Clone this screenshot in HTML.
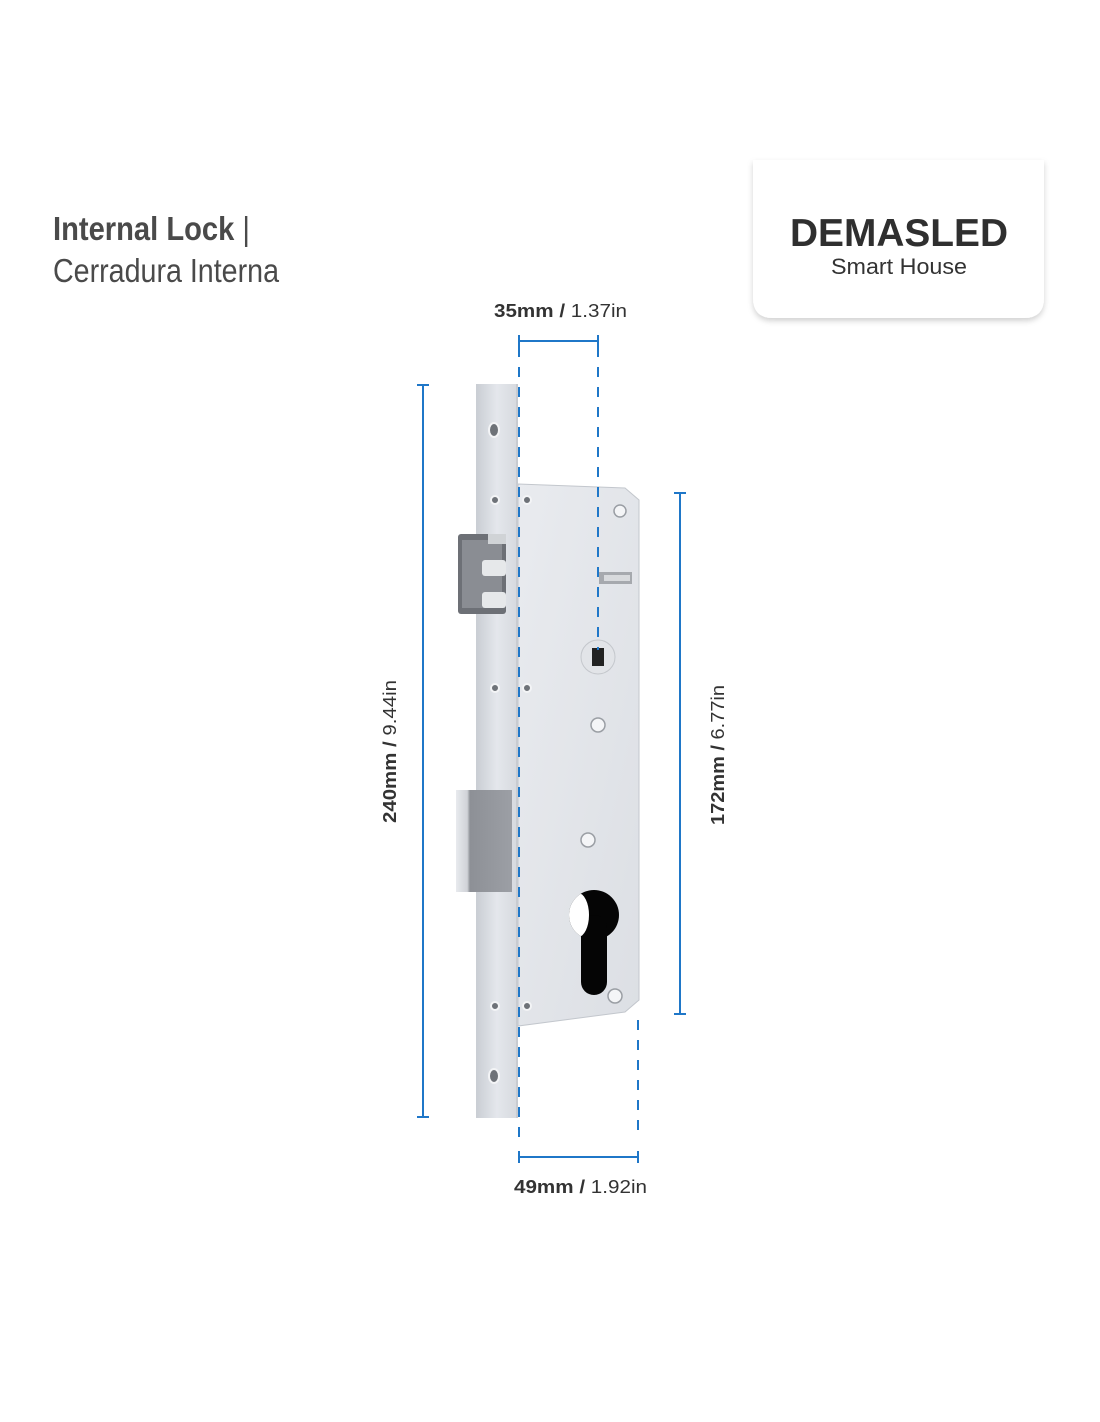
<!DOCTYPE html>
<html><head><meta charset="utf-8"><style>
html,body{margin:0;padding:0;background:#fff;}
svg{display:block}
text{font-family:"Liberation Sans",sans-serif}
</style></head><body>
<svg width="1100" height="1422" viewBox="0 0 1100 1422" xmlns="http://www.w3.org/2000/svg">
<defs>
<linearGradient id="fp" x1="0" x2="1"><stop offset="0" stop-color="#c9cdd3"/><stop offset="0.5" stop-color="#e4e7ec"/><stop offset="1" stop-color="#d6d9de"/></linearGradient>
<linearGradient id="cs" x1="0" x2="1" y1="0" y2="1"><stop offset="0" stop-color="#e9ebef"/><stop offset="1" stop-color="#dcdfe4"/></linearGradient>
<linearGradient id="db" x1="0" x2="1"><stop offset="0" stop-color="#e8eaee"/><stop offset="0.2" stop-color="#d0d3d8"/><stop offset="0.25" stop-color="#8d9096"/><stop offset="1" stop-color="#9c9fa5"/></linearGradient>
<filter id="sh" x="-10%" y="-10%" width="120%" height="130%"><feDropShadow dx="0" dy="3" stdDeviation="3" flood-color="#000" flood-opacity="0.18"/></filter>
<clipPath id="kc"><circle cx="594" cy="915" r="25"/></clipPath>
</defs>

<path d="M753 160 V298 Q753 318 773 318 H1024 Q1044 318 1044 298 V160 Z" fill="#fff" filter="url(#sh)"/>
<text x="790" y="246" font-size="39" font-weight="bold" fill="#2f2f2f" textLength="218" lengthAdjust="spacingAndGlyphs">DEMASLED</text>
<text x="831" y="274" font-size="22" fill="#333" textLength="136" lengthAdjust="spacingAndGlyphs">Smart House</text>

<text x="53" y="240" font-size="33" font-weight="bold" fill="#4a4a4a" textLength="197" lengthAdjust="spacingAndGlyphs">Internal Lock <tspan font-weight="normal">|</tspan></text>
<text x="53" y="282" font-size="33" fill="#4a4a4a" textLength="226" lengthAdjust="spacingAndGlyphs">Cerradura Interna</text>

<path d="M518 484 L625 488 L639 500 L639 1000 L625 1012 L518 1026 Z" fill="url(#cs)" stroke="#c3c7cd" stroke-width="1"/>
<rect x="476" y="384" width="42" height="734" fill="url(#fp)"/>
<line x1="517" y1="384" x2="517" y2="1118" stroke="#b8bcc2"/>
<rect x="458" y="534" width="48" height="80" rx="3" fill="#6d7076"/>
<rect x="462" y="540" width="40" height="68" fill="#8a8d93"/>
<rect x="482" y="560" width="24" height="16" rx="3" fill="#e6e8ea"/>
<rect x="482" y="592" width="24" height="16" rx="3" fill="#e6e8ea"/>
<rect x="488" y="534" width="18" height="10" fill="#d0d3d6"/>
<rect x="456" y="790" width="56" height="102" fill="url(#db)"/>
<g fill="#6e7278" stroke="#f3f4f6" stroke-width="2">
<ellipse cx="494" cy="430" rx="5" ry="7"/>
<circle cx="495" cy="500" r="4"/><circle cx="527" cy="500" r="4"/>
<circle cx="495" cy="688" r="4"/><circle cx="527" cy="688" r="4"/>
<circle cx="495" cy="1006" r="4"/><circle cx="527" cy="1006" r="4"/>
<ellipse cx="494" cy="1076" rx="5" ry="7"/>
</g>
<g fill="#f4f5f7" stroke="#9a9ea4" stroke-width="1.5">
<circle cx="620" cy="511" r="6"/><circle cx="598" cy="725" r="7"/><circle cx="588" cy="840" r="7"/>
</g>
<rect x="599" y="572" width="33" height="12" fill="#a6a9ae"/><rect x="604" y="575" width="26" height="6" fill="#d8dadd"/>
<circle cx="598" cy="657" r="17" fill="#e2e4e8" stroke="#c4c7cc"/>
<rect x="592" y="648" width="12" height="18" fill="#222"/>
<circle cx="594" cy="915" r="25" fill="#050505"/>
<rect x="581" y="915" width="26" height="80" rx="13" fill="#050505"/>
<ellipse cx="578" cy="915" rx="11" ry="22" fill="#fff" clip-path="url(#kc)"/>
<circle cx="615" cy="996" r="7" fill="#f4f5f7" stroke="#9a9ea4" stroke-width="1.5"/>

<g stroke="#1f77c8" stroke-width="2" fill="none">
<line x1="519" y1="341" x2="598" y2="341"/><line x1="519" y1="335" x2="519" y2="347"/><line x1="598" y1="335" x2="598" y2="347"/>
<line x1="519" y1="347" x2="519" y2="1140" stroke-dasharray="10 10"/>
<line x1="598" y1="347" x2="598" y2="650" stroke-dasharray="10 10"/>
<line x1="638" y1="1020" x2="638" y2="1140" stroke-dasharray="10 10"/>
<line x1="519" y1="1157" x2="638" y2="1157"/><line x1="519" y1="1151" x2="519" y2="1163"/><line x1="638" y1="1151" x2="638" y2="1163"/>
<line x1="423" y1="385" x2="423" y2="1117"/><line x1="417" y1="385" x2="429" y2="385"/><line x1="417" y1="1117" x2="429" y2="1117"/>
<line x1="680" y1="493" x2="680" y2="1014"/><line x1="674" y1="493" x2="686" y2="493"/><line x1="674" y1="1014" x2="686" y2="1014"/>
</g>
<g font-size="18" fill="#333">
<text x="494" y="317" textLength="133" lengthAdjust="spacingAndGlyphs"><tspan font-weight="bold">35mm /</tspan> 1.37in</text>
<text x="514" y="1193" textLength="133" lengthAdjust="spacingAndGlyphs"><tspan font-weight="bold">49mm /</tspan> 1.92in</text>
<text transform="translate(396 823) rotate(-90)" textLength="143" lengthAdjust="spacingAndGlyphs"><tspan font-weight="bold">240mm /</tspan> 9.44in</text>
<text transform="translate(724 825) rotate(-90)" textLength="140" lengthAdjust="spacingAndGlyphs"><tspan font-weight="bold">172mm /</tspan> 6.77in</text>
</g>
</svg>
</body></html>
